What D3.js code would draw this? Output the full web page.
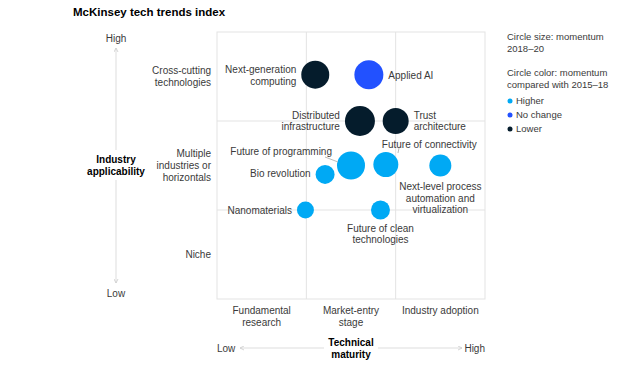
<!DOCTYPE html>
<html>
<head>
<meta charset="utf-8">
<script src="https://cdn.jsdelivr.net/npm/d3@7"></script>
<style>
  body { margin: 0; background: #fff; }
  svg { display: block; }
</style>
</head>
<body>
<div id="chart"></div>
<script>
// Data
const techs = ["Next-generation|computing", "Applied AI", "Distributed|infrastructure", "Trust|architecture",
  "Future of programming", "Bio revolution", "Future of connectivity",
  "Next-level process|automation and|virtualization", "Nanomaterials", "Future of clean|technologies"];
const maturity = [1.1, 1.7, 1.6, 2.0, 1.5, 1.21, 1.89, 2.5, 0.99, 1.83];
const applicability = [2.52, 2.52, 2.0, 2.0, 1.5, 1.4, 1.51, 1.5, 1.0, 1.0];
const momentum = [196, 210, 225, 169, 196, 90, 156, 121, 72, 90];
const change = ["Lower", "No change", "Lower", "Lower", "Higher", "Higher", "Higher", "Higher", "Higher", "Higher"];

const stages = ["Fundamental|research", "Market-entry|stage", "Industry adoption"];
const reach = ["Niche", "Multiple|industries or|horizontals", "Cross-cutting|technologies"];
const changeKeys = ["Higher", "No change", "Lower"];

// label placement per bubble (dx from edge, dy of first line centre)
const labelPos = [
  { side: "left", dy: -5 }, { side: "right", dy: 1 }, { side: "left", dy: -6 }, { side: "right", dy: -6 },
  { side: "left", dy: -14 }, { side: "left", dy: -1 }, { side: "topstart", dx: -4, dy: -20 },
  { side: "below", dy: 21 }, { side: "left", dy: 0 }, { side: "below", dy: 18 }
];

const width = 624, height = 375;
const svg = d3.select("#chart").append("svg")
  .attr("width", width).attr("height", height)
  .attr("font-family", "'Liberation Sans', Arial, sans-serif")
  .attr("font-size", 10);

const x = d3.scaleLinear().domain([0, 3]).range([217, 485]);
const y = d3.scaleLinear().domain([0, 3]).range([299, 32]);
const r = d3.scaleSqrt().domain([0, 225]).range([0, 15]);
const color = d3.scaleOrdinal().domain(changeKeys).range(["#00a9f4", "#2251ff", "#051c2c"]);

const grey = "#e3e3e3", textCol = "#3a3a3a";

// title
svg.append("text").attr("x", 73).attr("y", 16)
  .attr("font-size", 11.5).attr("font-weight", "bold").attr("fill", "#000")
  .text("McKinsey tech trends index");

// grid
const grid = svg.append("g").attr("stroke", grey).attr("fill", "none");
grid.append("rect").attr("x", x(0)).attr("y", y(3)).attr("width", x(3) - x(0)).attr("height", y(0) - y(3));
grid.selectAll("line.v").data([1, 2]).enter().append("line")
  .attr("x1", d => x(d)).attr("x2", d => x(d)).attr("y1", y(0)).attr("y2", y(3));
grid.selectAll("line.h").data([1, 2]).enter().append("line")
  .attr("y1", d => y(d)).attr("y2", d => y(d)).attr("x1", x(0)).attr("x2", x(3));

function multiline(sel, str, lh) {
  const parts = str.split("|");
  parts.forEach((p, i) => {
    sel.append("tspan").attr("x", sel.attr("x")).attr("dy", i === 0 ? "0.35em" : lh).text(p);
  });
}

// row labels
reach.forEach((d, i) => {
  const n = d.split("|").length;
  const t = svg.append("text").attr("x", 211).attr("y", y(i + 0.5) - (n - 1) * 6)
    .attr("text-anchor", "end").attr("fill", textCol);
  multiline(t, d, 12);
});

// column labels
stages.forEach((d, i) => {
  const t = svg.append("text").attr("x", x(i + 0.5)).attr("y", 310)
    .attr("text-anchor", "middle").attr("fill", textCol);
  multiline(t, d, 12.5);
});

// arrow marker
const defs = svg.append("defs");
defs.append("marker").attr("id", "arr").attr("viewBox", "0 0 6 6").attr("refX", 5).attr("refY", 3)
  .attr("markerWidth", 5).attr("markerHeight", 5).attr("orient", "auto-start-reverse")
  .append("path").attr("d", "M0,0.5L5,3L0,5.5").attr("fill", "none").attr("stroke", "#ccc");

// vertical axis
const axX = 116;
svg.append("text").attr("x", axX).attr("y", 38).attr("dy", "0.35em").attr("text-anchor", "middle").attr("fill", textCol).text("High");
svg.append("text").attr("x", axX).attr("y", 293).attr("dy", "0.35em").attr("text-anchor", "middle").attr("fill", textCol).text("Low");
svg.append("line").attr("x1", axX).attr("x2", axX).attr("y1", 150).attr("y2", 48)
  .attr("stroke", "#ddd").attr("marker-end", "url(#arr)");
svg.append("line").attr("x1", axX).attr("x2", axX).attr("y1", 180).attr("y2", 283)
  .attr("stroke", "#ddd").attr("marker-end", "url(#arr)");
const yl = svg.append("text").attr("x", axX).attr("y", 159).attr("text-anchor", "middle")
  .attr("font-weight", "bold").attr("fill", "#000");
multiline(yl, "Industry|applicability", 12);

// horizontal axis
const axY = 348;
svg.append("text").attr("x", x(0)).attr("y", axY).attr("dy", "0.35em").attr("fill", textCol).text("Low");
svg.append("text").attr("x", x(3)).attr("y", axY).attr("dy", "0.35em").attr("text-anchor", "end").attr("fill", textCol).text("High");
svg.append("line").attr("x1", 324).attr("x2", 240).attr("y1", axY).attr("y2", axY)
  .attr("stroke", "#ddd").attr("marker-end", "url(#arr)");
svg.append("line").attr("x1", 378).attr("x2", 462).attr("y1", axY).attr("y2", axY)
  .attr("stroke", "#ddd").attr("marker-end", "url(#arr)");
const xl = svg.append("text").attr("x", x(1.5)).attr("y", 342).attr("text-anchor", "middle")
  .attr("font-weight", "bold").attr("fill", "#000");
multiline(xl, "Technical|maturity", 12);

// bubbles
const data = techs.map((t, i) => ({
  name: t, mx: maturity[i], ay: applicability[i], m: momentum[i], c: change[i], pos: labelPos[i]
}));

svg.append("g").selectAll("circle").data(data).enter().append("circle")
  .attr("cx", d => x(d.mx)).attr("cy", d => y(d.ay)).attr("r", d => r(d.m))
  .attr("fill", d => color(d.c));

// leader lines
svg.append("line").attr("x1", 325).attr("y1", 157).attr("x2", 338).attr("y2", 162).attr("stroke", "#bbb");
svg.append("line").attr("x1", 399).attr("y1", 148).attr("x2", 398).attr("y2", 153).attr("stroke", "#bbb");

data.forEach(d => {
  const cx = x(d.mx), cy = y(d.ay), rr = r(d.m);
  let tx, anchor;
  if (d.pos.side === "left") { tx = cx - rr - 5; anchor = "end"; }
  else if (d.pos.side === "right") { tx = cx + rr + 5; anchor = "start"; }
  else if (d.pos.side === "topstart") { tx = cx + d.pos.dx; anchor = "start"; }
  else { tx = cx; anchor = "middle"; }
  const t = svg.append("text").attr("x", tx).attr("y", cy + d.pos.dy)
    .attr("text-anchor", anchor).attr("fill", textCol);
  multiline(t, d.name, 11.5);
});

// legend
const lg = svg.append("g").attr("font-size", 9.5).attr("fill", textCol);
const lx = 507;
[["Circle size: momentum", 37], ["2018\u201320", 49], ["Circle color: momentum", 73], ["compared with 2015\u201318", 85]]
  .forEach(([s, yy]) => lg.append("text").attr("x", lx).attr("y", yy).attr("dy", "0.35em").text(s));
const items = lg.selectAll("g.item").data(changeKeys).enter().append("g")
  .attr("transform", (d, i) => `translate(${lx},${101 + i * 14})`);
items.append("circle").attr("cx", 3).attr("r", 2.5).attr("fill", d => color(d));
items.append("text").attr("x", 9).attr("dy", "0.35em").text(d => d);
</script>
</body>
</html>
